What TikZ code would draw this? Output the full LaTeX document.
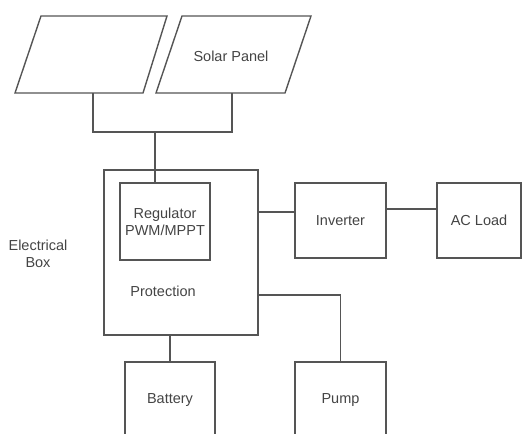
\documentclass[tikz,border=0pt]{standalone}
\usepackage{fontspec}
\setmainfont{Liberation Sans}
\definecolor{ln}{HTML}{555555}
\definecolor{tx}{HTML}{444444}
\tikzset{
  line/.style={draw=ln, line width=1.4pt},
  blk/.style={line, rectangle, inner sep=0pt, text=tx, font=\fontsize{14.5}{17}\selectfont, align=center},
  lbl/.style={text=tx, font=\fontsize{14.5}{17}\selectfont, align=center, inner sep=0pt}
}
\begin{document}
\begin{tikzpicture}[x=1pt,y=-1pt]
\useasboundingbox (0,0) rectangle (523,434);
% solar panels
\draw[line] (41,16) -- (167,16) -- (143,93) -- (15,93) -- cycle;
\draw[line] (182,16) -- (311,16) -- (285,93) -- (156,93) -- cycle;
\node[lbl] (sp) at (231,56) {Solar Panel};
\coordinate (p1b) at (93,93);
\coordinate (p2b) at (232,93);
\coordinate (j) at (155,132);
% boxes
\node[blk, minimum width=154pt, minimum height=165pt] (box) at (181,252.5) {};
\node[blk, minimum width=90pt, minimum height=77pt] (reg) at (165,221.5) {Regulator\\PWM/MPPT};
\node[lbl] (prot) at (163,291) {Protection};
\node[lbl] (eb) at (38,254) {Electrical\\Box};
\node[blk, minimum width=91pt, minimum height=75pt] (inv) at (340.5,220.5) {Inverter};
\node[blk, minimum width=84pt, minimum height=75pt] (ac) at (479,220.5) {AC Load};
\node[blk, minimum width=90pt, minimum height=76pt] (bat) at (170,400) {Battery};
\node[blk, minimum width=91pt, minimum height=76pt] (pump) at (340.5,400) {Pump};
% connectors
\draw[line] (p1b) |- (j) -| (p2b);
\draw[line] (j) -- (j |- reg.north);
\draw[line] (box.east |- 0,212) -- (inv.west |- 0,212);
\draw[line] (inv.east |- 0,209) -- (ac.west |- 0,209);
\draw[line] (box.east |- 0,295) -| (pump.north);
\draw[line] (box.south -| bat.north) -- (bat.north);
\end{tikzpicture}
\end{document}
